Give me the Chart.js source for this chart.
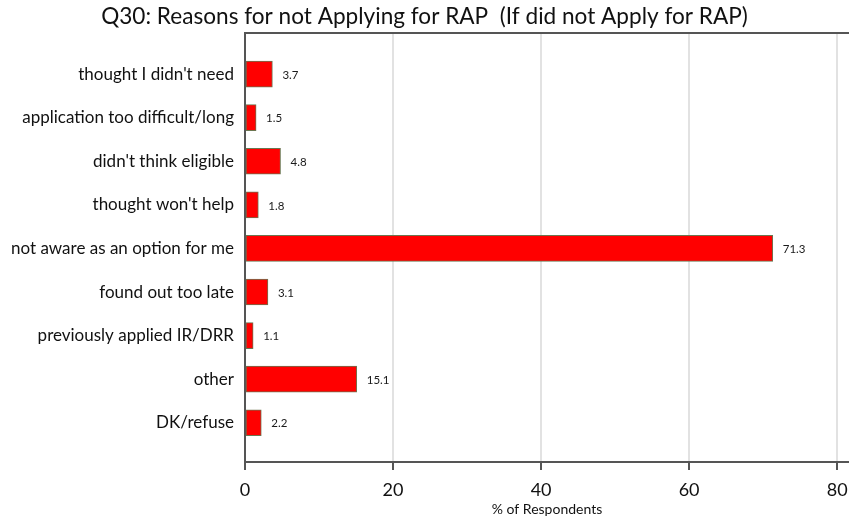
<!DOCTYPE html>
<html>
<head>
<meta charset="utf-8">
<script src="https://cdn.jsdelivr.net/npm/chart.js@4"></script>
<style>
  html, body { margin: 0; padding: 0; background: #fff; }
  #wrap { width: 849px; height: 518px; }
</style>
</head>
<body>
<div id="wrap"><canvas id="chart"></canvas></div>
<script>
/* ── Data ── */
const categories = [
  "thought I didn't need",
  'application too difficult/long',
  "didn't think eligible",
  "thought won't help",
  'not aware as an option for me',
  'found out too late',
  'previously applied IR/DRR',
  'other',
  'DK/refuse'
];
const percents = [3.7, 1.5, 4.8, 1.8, 71.3, 3.1, 1.1, 15.1, 2.2];
const xTicks = [0, 20, 40, 60, 80];

const FONT = 'Lato, "Open Sans", sans-serif';
const AXIS = '#555555';

/* ── Value labels beside the bars ── */
const valueLabels = {
  id: 'valueLabels',
  afterDatasetsDraw(chart) {
    const ctx = chart.ctx;
    const meta = chart.getDatasetMeta(0);
    ctx.save();
    ctx.font = '11.5px ' + FONT;
    ctx.fillStyle = '#1a1a1a';
    ctx.textAlign = 'left';
    ctx.textBaseline = 'middle';
    meta.data.forEach((bar, i) => {
      ctx.fillText(percents[i].toFixed(1), bar.x + 10, bar.y + 1);
    });
    ctx.restore();
  }
};

new Chart(document.getElementById('chart'), {
  type: 'bar',
  data: {
    datasets: [{
      data: percents.map((v, i) => ({ x: v, y: i })),
      backgroundColor: '#ff0000',
      borderColor: '#6b7550',
      borderWidth: 1,
      borderSkipped: false,
      barThickness: 26
    }]
  },
  options: {
    indexAxis: 'y',
    responsive: true,
    maintainAspectRatio: false,
    animation: false,
    layout: { padding: 0 },
    plugins: {
      legend: { display: false },
      tooltip: { enabled: false },
      title: {
        display: true,
        text: 'Q30: Reasons for not Applying for RAP  (If did not Apply for RAP)',
        color: '#111',
        font: { family: FONT, size: 22.6, weight: 'normal' },
        padding: { top: 3, bottom: 3 }
      }
    },
    scales: {
      x: {
        type: 'linear',
        position: 'bottom',
        min: 0,
        max: 81.6,
        afterBuildTicks: s => { s.ticks = xTicks.map(v => ({ value: v })); },
        afterFit: s => { s.height = 56; s.paddingRight = 0; s.paddingLeft = 0; },
        grid: {
          color: '#e2e2e2',
          lineWidth: 2,
          tickColor: AXIS,
          tickLength: 8,
          tickWidth: 2
        },
        border: { color: AXIS, width: 2 },
        ticks: {
          color: '#111',
          font: { family: FONT, size: 18 },
          padding: 9
        },
        title: {
          display: true,
          text: '% of Respondents',
          color: '#111',
          font: { family: FONT, size: 14 },
          padding: { top: 0, bottom: 0 }
        }
      },
      xTop: {
        type: 'linear',
        position: 'top',
        min: 0,
        max: 81.6,
        afterFit: s => { s.paddingRight = 0; s.paddingLeft = 0; },
        grid: { drawOnChartArea: false, drawTicks: false },
        border: { color: AXIS, width: 2 },
        ticks: { display: false }
      },
      y: {
        type: 'linear',
        reverse: true,
        offset: false,
        min: -0.94,
        max: 8.9,
        afterBuildTicks: s => { s.ticks = categories.map((c, i) => ({ value: i })); },
        afterFit: s => { s.width = 245; },
        grid: { display: false },
        border: { color: AXIS, width: 2 },
        ticks: {
          color: '#111',
          font: { family: FONT, size: 17 },
          padding: 3,
          autoSkip: false,
          callback: v => categories[v]
        }
      }
    }
  },
  plugins: [valueLabels]
});
</script>
</body>
</html>
